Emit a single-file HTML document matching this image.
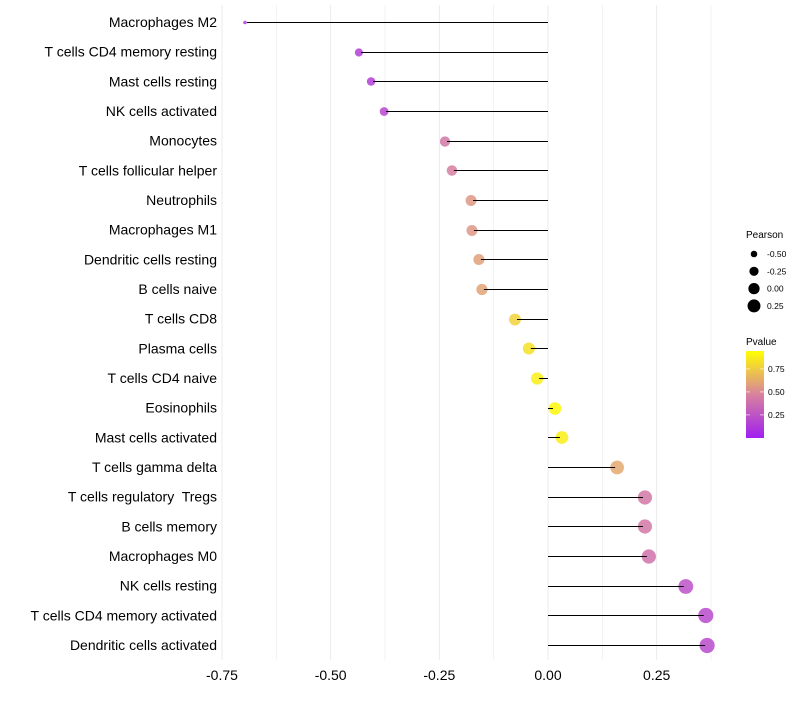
<!DOCTYPE html>
<html><head><meta charset="utf-8"><style>
body{margin:0;background:#fff;font-family:"Liberation Sans",sans-serif;}
text{white-space:pre;}
</style></head><body>
<svg id="chart" width="800" height="700" xmlns="http://www.w3.org/2000/svg" font-family="Liberation Sans, sans-serif">
<defs><linearGradient id="pg" x1="0" y1="1" x2="0" y2="0">
<stop offset="0" stop-color="#a020f0"/><stop offset="0.5" stop-color="#d8829e"/><stop offset="1" stop-color="#ffff00"/></linearGradient></defs>
<g id="grid"></g><g id="marks"></g><g id="labels"></g>
<g>
<text x="746" y="238" font-size="10" fill="#000">Pearson</text>
<g id="sizeleg"></g>
<text x="746" y="345" font-size="10" fill="#000">Pvalue</text>
<rect x="746" y="351" width="18" height="87" fill="url(#pg)"/>
<g id="colleg"></g>
</g>
</svg>
<script>
const cells=["Macrophages M2","T cells CD4 memory resting","Mast cells resting","NK cells activated","Monocytes","T cells follicular helper","Neutrophils","Macrophages M1","Dendritic cells resting","B cells naive","T cells CD8","Plasma cells","T cells CD4 naive","Eosinophils","Mast cells activated","T cells gamma delta","T cells regulatory  Tregs","B cells memory","Macrophages M0","NK cells resting","T cells CD4 memory activated","Dendritic cells activated"];
const pearson=[-0.697,-0.435,-0.407,-0.377,-0.237,-0.221,-0.177,-0.175,-0.159,-0.152,-0.076,-0.044,-0.025,0.016,0.032,0.159,0.223,0.223,0.232,0.317,0.363,0.366];
const pvalue=[0.12,0.15,0.15,0.2,0.45,0.48,0.58,0.58,0.62,0.63,0.82,0.88,0.93,0.97,0.93,0.65,0.45,0.45,0.42,0.25,0.22,0.22];
const xTicks=[-0.75,-0.5,-0.25,0,0.25];
const xTickLabels=["-0.75","-0.50","-0.25","0.00","0.25"];
const sizeLegVals=[-0.5,-0.25,0,0.25];
const sizeLegLabels=["-0.50","-0.25","0.00","0.25"];
const colLegVals=[0.25,0.5,0.75];
const colLegLabels=["0.25","0.50","0.75"];
const NS="http://www.w3.org/2000/svg";
const xS=v=>548+v*434.7;
const yS=i=>22+i*29.667;
const rS=v=>Math.sqrt(3+(v+0.7)/1.07*55);
function lerp(a,b,t){return a.map((x,i)=>Math.round(x+(b[i]-x)*t));}
function col(p){const P=[160,32,240],M=[216,130,158],Y=[255,255,0];
 const c=p<0.5?lerp(P,M,p/0.5):lerp(M,Y,(p-0.5)/0.5);return `rgb(${c})`;}
function mk(tag,at,parent){const e=document.createElementNS(NS,tag);for(const k in at)e.setAttribute(k,at[k]);parent.appendChild(e);return e;}
const grid=document.getElementById('grid'),marks=document.getElementById('marks'),labels=document.getElementById('labels');
for(let v=-0.75;v<=0.38;v+=0.125){const g=mk('line',{x1:xS(v),x2:xS(v),y1:5,y2:660,stroke:'#ebebeb','stroke-width':Math.abs(v*8-Math.round(v*8))<0.01&&Math.round(v*8)%2===0?1:0.6},grid);

}
xTicks.forEach((v,i)=>{const t=mk('text',{x:xS(v),y:680,'font-size':14,'text-anchor':'middle',fill:'#000'},labels);t.textContent=xTickLabels[i];

});
cells.forEach((c,i)=>{const y=yS(i),x=xS(pearson[i]);const ly=Math.round(y)+0.5;
 const t=mk('text',{x:217,y:y+5,'font-size':14,'text-anchor':'end',fill:'#000'},labels);t.textContent=c;
 
 
 const d=mk('circle',{cx:x,cy:ly,r:rS(pearson[i]),fill:col(pvalue[i]),'fill-opacity':0.85},marks);
 
 
 const l=mk('line',{x1:x+(pearson[i]<0?2:-2),x2:xS(0),y1:ly,y2:ly,stroke:'#000','stroke-width':1},marks);
 
 });
const sl=document.getElementById('sizeleg');
sizeLegVals.forEach((v,i)=>{const y=254+i*17.3;
 const c=mk('circle',{cx:754,cy:y,r:rS(v)*0.9,fill:'#000'},sl);
 const t=mk('text',{x:767,y:y+3,'font-size':8.5,fill:'#000'},sl);t.textContent=sizeLegLabels[i];});
const cl=document.getElementById('colleg');
colLegVals.forEach((v,i)=>{const y=437-(v-0.01)/0.25*23;
 mk('line',{x1:746,x2:750,y1:y,y2:y,stroke:'#fff','stroke-width':0.6},cl);mk('line',{x1:760,x2:764,y1:y,y2:y,stroke:'#fff','stroke-width':0.6},cl);
 const t=mk('text',{x:768,y:y+3,'font-size':8.5,fill:'#000'},cl);t.textContent=colLegLabels[i];});
</script>
</body></html>
